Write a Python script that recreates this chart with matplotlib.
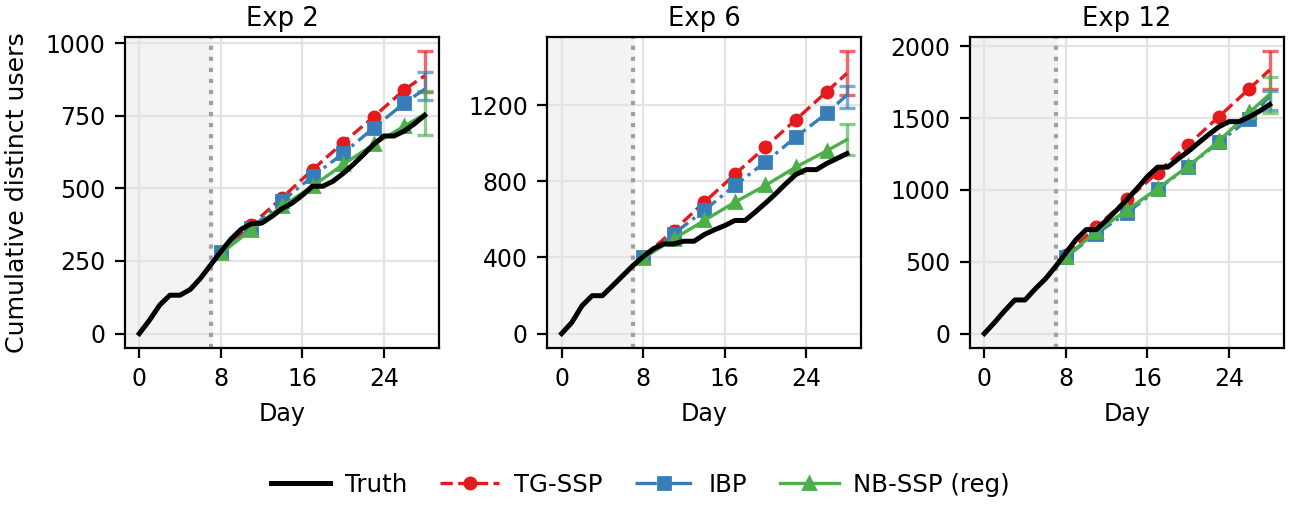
import numpy as np
import matplotlib.pyplot as plt

days = np.arange(29)
fc_days = [8, 11, 14, 17, 20, 23, 26, 28]
titles = ["Exp 2", "Exp 6", "Exp 12"]
yticks = [[0, 250, 500, 750, 1000], [0, 400, 800, 1200], [0, 500, 1000, 1500, 2000]]

truth = [
    [0, 46, 98, 132, 132, 152, 190, 236, 282, 325, 359, 378, 380, 403, 430, 449,
     476, 507, 507, 524, 551, 582, 616, 651, 680, 680, 697, 722, 751],
    [0, 58, 146, 199, 199, 251, 304, 357, 404, 445, 471, 471, 485, 485, 520, 545,
     567, 594, 594, 638, 685, 734, 787, 836, 861, 861, 893, 919, 945],
    [0, 77, 159, 234, 234, 311, 381, 467, 561, 654, 724, 724, 790, 860, 934, 1011,
     1093, 1159, 1159, 1215, 1268, 1327, 1385, 1439, 1476, 1476, 1509, 1549, 1595],
]
tg_ssp = [
    [282, 374, 467, 564, 657, 746, 839, 887],
    [404, 541, 690, 836, 980, 1124, 1270, 1367],
    [550, 743, 934, 1121, 1315, 1509, 1705, 1836],
]
ibp = [
    [282, 363, 455, 541, 620, 708, 793, 841],
    [401, 524, 647, 778, 901, 1033, 1156, 1253],
    [533, 696, 841, 1004, 1163, 1332, 1495, 1654],
]
nb_ssp = [
    [276, 357, 438, 507, 582, 651, 714, 755],
    [395, 497, 594, 690, 778, 875, 959, 1019],
    [535, 710, 860, 1010, 1165, 1340, 1540, 1666],
]
# final-day intervals (low, high)
tg_int = [(833, 973), (1253, 1485), (1705, 1969)]
ibp_int = [(804, 899), (1186, 1300), (1556, 1689)]
nb_int = [(683, 835), (936, 1100), (1537, 1789)]

red, blue, green = "#e41a1c", "#377eb8", "#4daf4a"

plt.rcParams["font.size"] = 8.5
fig = plt.figure(figsize=(6.485, 2.525), dpi=200)
lefts = [0.0964, 0.422, 0.7479]

for i in range(3):
    ax = fig.add_axes([lefts[i], 0.3115, 0.2420, 0.6158])
    ax.axvspan(-1.4, 7, color="#f3f3f3", zorder=0)
    ax.axvline(7, color="#a0a0a0", ls=":", lw=1.5, zorder=1)
    ax.grid(True, color="#e3e3e3", lw=0.8, zorder=0)
    ax.set_axisbelow(True)

    ax.plot(days, truth[i], color="black", lw=1.8, zorder=5, label="Truth")
    ax.plot(fc_days, tg_ssp[i], color=red, ls="--", lw=1.2, marker="o", ms=4,
            markevery=list(range(7)), zorder=4, label="TG-SSP")
    ax.plot(fc_days, ibp[i], color=blue, ls="-.", lw=1.2, marker="s", ms=4,
            markevery=list(range(7)), zorder=4, label="IBP")
    ax.plot(fc_days, nb_ssp[i], color=green, ls="-", lw=1.2, marker="^", ms=4,
            markevery=list(range(7)), zorder=4, label="NB-SSP (reg)")

    for ints, c in [(tg_int, red), (ibp_int, blue), (nb_int, green)]:
        lo, hi = ints[i]
        mid = (lo + hi) / 2
        ax.errorbar([28], [mid], yerr=[[mid - lo], [hi - mid]], fmt="none",
                    ecolor=c, elinewidth=1.2, capsize=3, capthick=1.2,
                    alpha=0.65, zorder=3)

    ax.set_xlim(-1.4, 29.4)
    ax.set_xticks([0, 8, 16, 24])
    ax.set_yticks(yticks[i])
    ax.set_title(titles[i], fontsize=9.3, pad=4)
    ax.set_xlabel("Day", fontsize=8.6)
    if i == 0:
        ax.set_ylabel("Cumulative distinct users", fontsize=9.1, labelpad=6)
        handles, labels = ax.get_legend_handles_labels()

fig.legend(handles, labels, loc="center", bbox_to_anchor=(0.494, 0.04), ncol=4,
           frameon=False, fontsize=8.8, handlelength=2.4, columnspacing=1.35,
           handletextpad=0.6)
fig.savefig("out.png", dpi=200)
